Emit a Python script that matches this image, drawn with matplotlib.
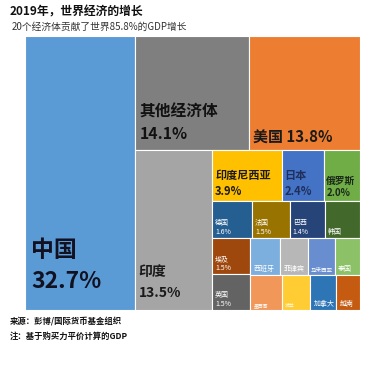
import matplotlib.pyplot as plt
from matplotlib.patches import Rectangle

plt.rcParams['font.family'] = ['Noto Sans CJK SC', 'DejaVu Sans']

# 2019 contribution to world GDP growth (%), PPP basis
names = ['中国', '其他经济体', '美国', '印度', '印度尼西亚', '日本', '俄罗斯',
         '德国', '法国', '巴西', '韩国', '埃及', '英国',
         '西班牙', '菲律宾', '马来西亚', '泰国', '墨西哥', '波兰', '加拿大', '越南']
shares = [32.7, 14.1, 13.8, 13.5, 3.9, 2.4, 2.0,
          1.6, 1.5, 1.4, 1.4, 1.5, 1.5,
          1.2, 1.1, 1.1, 1.0, 1.2, 1.1, 1.0, 0.9]
show_value = [True] * 10 + [False, True, True] + [False] * 8

colors = ['#5B9BD5', '#7F7F7F', '#ED7D31', '#A5A5A5', '#FFC000', '#4472C4', '#70AD47',
          '#255E91', '#997300', '#264478', '#43682B', '#9E480E', '#636363',
          '#7CAFDD', '#B7B7B7', '#698ED0', '#8CC168', '#F1975A', '#FFCD33', '#2E75B6', '#C55A11']
text_colors = ['#111122', '#111111', '#1a1a1a', '#1a1a1a', '#1a1a1a', '#1F2F5C', '#1a2a1a'] + ['white'] * 14
font_sizes = [16.5, 11.3, 10.8, 10, 8, 8, 7,
              5, 5, 5, 5, 5, 5,
              5, 5, 4, 5, 3.5, 3.5, 5, 5]
weights = ['bold'] * 7 + ['normal'] * 14
line_sp = [1.45, 1.45, 1.3, 1.6, 1.3, 1.3, 1.3] + [1.15] * 14
pad_y = [17, 8, 4, 10, 3, 3, 3] + [2] * 14
pad_x = [6, 5, 4, 4, 3, 3, 2] + [3] * 14

# treemap arrangement: 'h' splits left to right, 'v' splits top to bottom
tree = ('h', [0, ('v', [('h', [1, 2]),
                        ('h', [3, ('v', [('h', [4, 5, 6]),
                                         ('h', [7, 8, 9, 10]),
                                         ('h', [('v', [11, 12]),
                                                ('v', [('h', [13, 14, 15, 16]),
                                                       ('h', [17, 18, 19, 20])])])])])])])


def total(node):
    if isinstance(node, int):
        return shares[node]
    return sum(total(c) for c in node[1])


def layout(node, x, y, w, h, out):
    # y is the top edge, axes y grows upward
    if isinstance(node, int):
        out[node] = (x, y - h, w, h)
        return
    direction, children = node
    s = total(node)
    for c in children:
        f = total(c) / s
        if direction == 'h':
            layout(c, x, y, w * f, h, out)
            x += w * f
        else:
            layout(c, x, y, w, h * f, out)
            y -= h * f


rects = {}
layout(tree, 0, 1, 1, 1, rects)

fig = plt.figure(figsize=(3.9, 3.68), dpi=100)
ax = fig.add_axes([25 / 390, 1 - 310 / 368, 335 / 390, 274 / 368])
ax.set_xlim(0, 1)
ax.set_ylim(0, 1)
ax.axis('off')

for i, name in enumerate(names):
    x, y, w, h = rects[i]
    ax.add_patch(Rectangle((x, y), w, h, facecolor=colors[i], edgecolor='white', linewidth=0.8))
    if i == 2:
        label = '%s %.1f%%' % (name, shares[i])
    elif show_value[i]:
        label = '%s\n%.1f%%' % (name, shares[i])
    else:
        label = name
    ax.annotate(label, xy=(x, y), xytext=(pad_x[i] * 0.72, pad_y[i] * 0.72),
                textcoords='offset points', ha='left', va='bottom',
                fontsize=font_sizes[i], color=text_colors[i],
                fontweight=weights[i], linespacing=line_sp[i])

fig.text(10 / 390, 1 - 12 / 368, '2019年，世界经济的增长', fontsize=8.5,
         fontweight='bold', va='center', ha='left', color='#111111')
fig.text(12 / 390, 1 - 27 / 368, '20个经济体贡献了世界85.8%的GDP增长', fontsize=7,
         va='center', ha='left', color='#333333')
fig.text(10 / 390, 1 - 321 / 368, '来源：彭博/国际货币基金组织', fontsize=6,
         fontweight='bold', va='center', ha='left', color='#111111')
fig.text(10 / 390, 1 - 336 / 368, '注：基于购买力平价计算的GDP', fontsize=6,
         fontweight='bold', va='center', ha='left', color='#111111')

fig.savefig('out.png', dpi=100, facecolor='white')
